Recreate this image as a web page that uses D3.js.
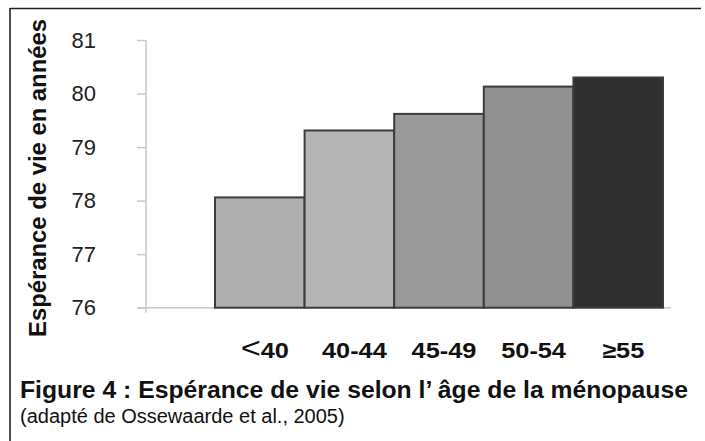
<!DOCTYPE html>
<html>
<head>
<meta charset="utf-8">
<script src="https://cdn.jsdelivr.net/npm/d3@7/dist/d3.min.js"></script>
<style>
  html, body { margin: 0; padding: 0; background: #fff; }
  svg { display: block; }
  text { font-family: "Liberation Sans", Arial, sans-serif; }
</style>
</head>
<body>
<svg id="chart" width="705" height="441"></svg>
<script>
const categories = ["<40", "40-44", "45-49", "50-54", "≥55"];
const values = [78.06, 79.31, 79.62, 80.13, 80.30];
const barColors = ["#aeaeae", "#b5b5b5", "#9a9a9a", "#909090", "#2f2f2f"];
const yTicks = [76, 77, 78, 79, 80, 81];
const yTitle = "Espérance de vie en années";
const figTitle = "Figure 4 : Espérance de vie selon l’ âge de la ménopause";
const figSource = "(adapté de Ossewaarde et al., 2005)";

const svg = d3.select("#chart");

// frame (top + left borders)
svg.append("line").attr("x1", 10).attr("x2", 701).attr("y1", 8.5).attr("y2", 8.5)
  .attr("stroke", "#222").attr("stroke-width", 1.6);
svg.append("line").attr("x1", 10).attr("x2", 10).attr("y1", 8).attr("y2", 441)
  .attr("stroke", "#222").attr("stroke-width", 1.6);

const x = d3.scaleBand().domain(categories).range([215, 663]).padding(0);
const y = d3.scaleLinear().domain([76, 81]).range([307.7, 40]);

function stretch(sel, factor) {
  sel.each(function() {
    const len = this.getComputedTextLength();
    d3.select(this).attr("textLength", len * factor).attr("lengthAdjust", "spacingAndGlyphs");
  });
}

// baseline
svg.append("line").attr("x1", 138).attr("x2", 671).attr("y1", y(76)).attr("y2", y(76))
  .attr("stroke", "#c8c8c8").attr("stroke-width", 1.5);

// y axis
const yAxis = svg.append("g").attr("transform", "translate(146,0)")
  .call(d3.axisLeft(y).tickValues(yTicks).tickSize(9).tickPadding(41).tickFormat(d3.format("d")));
yAxis.select(".domain").remove();
yAxis.selectAll(".tick line").attr("stroke", "#c8c8c8").attr("stroke-width", 1.5);
yAxis.selectAll(".tick text").attr("fill", "#222").style("font-size", "22px")
  .style("font-family", "'Liberation Sans', Arial, sans-serif");
svg.append("line").attr("x1", 146).attr("x2", 146).attr("y1", y(81)).attr("y2", y(76) + 5)
  .attr("stroke", "#c8c8c8").attr("stroke-width", 1.5);

// bars
svg.append("g").selectAll("rect").data(categories).join("rect")
  .attr("x", d => x(d))
  .attr("width", x.bandwidth())
  .attr("y", (d, i) => y(values[i]))
  .attr("height", (d, i) => y(76) - y(values[i]))
  .attr("fill", (d, i) => barColors[i])
  .attr("stroke", "#3c3c3c").attr("stroke-width", 2);

// x labels
const xl = svg.append("g").selectAll("text").data(categories).join("text")
  .attr("x", d => x(d) + x.bandwidth() / 2 + 5)
  .attr("y", 358)
  .attr("text-anchor", "middle")
  .attr("fill", "#111")
  .style("font-size", "22px").style("font-weight", "bold");
xl.each(function(d) {
  const t = d3.select(this);
  if (d.startsWith("<")) {
    t.append("tspan").text("<").style("font-size", "30px").style("font-weight", "normal");
    t.append("tspan").text(d.slice(1));
  } else {
    t.text(d);
  }
});
stretch(xl, 1.15);

// y title
const yt = svg.append("text")
  .attr("transform", "translate(46,178) rotate(-90)")
  .attr("text-anchor", "middle")
  .attr("fill", "#111")
  .style("font-size", "24px").style("font-weight", "bold")
  .text(yTitle);
yt.attr("textLength", 318).attr("lengthAdjust", "spacingAndGlyphs");

// figure caption
const ft = svg.append("text").attr("x", 20).attr("y", 398)
  .attr("fill", "#111").style("font-size", "23px").style("font-weight", "bold")
  .text(figTitle);
ft.attr("textLength", 668).attr("lengthAdjust", "spacingAndGlyphs");
svg.append("text").attr("x", 20).attr("y", 423)
  .attr("fill", "#111").style("font-size", "20px")
  .text(figSource);
</script>
</body>
</html>
